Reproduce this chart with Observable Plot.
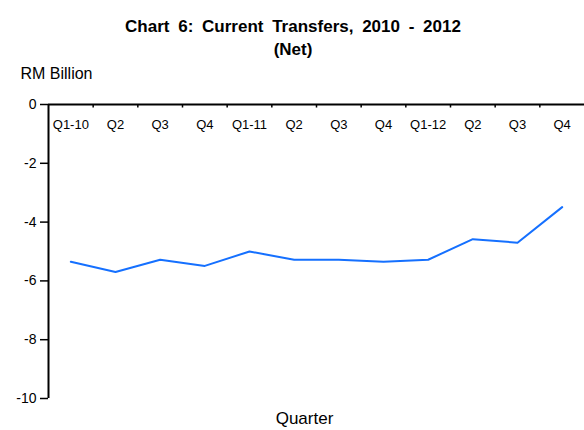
<!DOCTYPE html>
<html>
<head>
<meta charset="utf-8">
<script src="https://cdn.jsdelivr.net/npm/d3@7"></script>
<script src="https://cdn.jsdelivr.net/npm/@observablehq/plot@0.6"></script>
<style>
  body { margin: 0; background: #fff; font-family: "Liberation Sans", Arial, sans-serif; }
  #title { width: 584px; height: 47px; padding-top: 15px; line-height: 23px; text-align: center;
           font-weight: bold; font-size: 17px; color: #000; word-spacing: 4px; padding-left: 1px; box-sizing: content-box; }
  #chart svg { display: block; }
</style>
</head>
<body>
<div id="title">Chart 6: Current Transfers, 2010 - 2012<br>(Net)</div>
<div id="chart"></div>
<script>
const quarters = ["Q1-10","Q2","Q3","Q4","Q1-11","Q2","Q3","Q4","Q1-12","Q2","Q3","Q4"];
const transfers = [-5.35,-5.70,-5.28,-5.49,-5.00,-5.28,-5.28,-5.35,-5.28,-4.58,-4.70,-3.49];
const yTicks = [0,-2,-4,-6,-8,-10];
const yLabel = "RM Billion";
const xLabel = "Quarter";

const data = quarters.map((q, i) => ({q, i, v: transfers[i]}));
const boundaries = d3.range(1, quarters.length);

const chart = Plot.plot({
  width: 584,
  height: 368,
  marginTop: 42,
  marginBottom: 32,
  marginLeft: 48,
  marginRight: 0,
  style: {fontFamily: "Liberation Sans, Arial, sans-serif", fontSize: "13px", color: "#000"},
  x: {domain: [0, quarters.length], axis: null},
  y: {domain: [-10, 0], axis: null},
  marks: [
    Plot.axisY({ticks: yTicks, label: null, tickSize: 8, tickPadding: 4, tickFormat: d => String(d), fontSize: 14, strokeWidth: 1.5}),
    Plot.ruleX([0], {y1: -10, y2: 0, strokeWidth: 2, stroke: "#000"}),
    Plot.ruleY([0], {strokeWidth: 2, stroke: "#000"}),
    Plot.ruleX(boundaries, {y1: 0, y2: -0.12, strokeWidth: 1.5, stroke: "#000"}),
    Plot.text(data, {x: d => d.i + 0.5, y: 0, text: "q", dy: 20, fontSize: 13}),
    Plot.line(data, {x: d => d.i + 0.5, y: "v", stroke: "#1570ff", strokeWidth: 2}),
    Plot.text([yLabel], {frameAnchor: "top-left", text: d => d, textAnchor: "start", dx: -28, dy: -37, fontSize: 16}),
    Plot.text([xLabel], {frameAnchor: "bottom", text: d => d, dx: -12, dy: 25, fontSize: 17})
  ]
});
document.getElementById("chart").appendChild(chart);
</script>
</body>
</html>
